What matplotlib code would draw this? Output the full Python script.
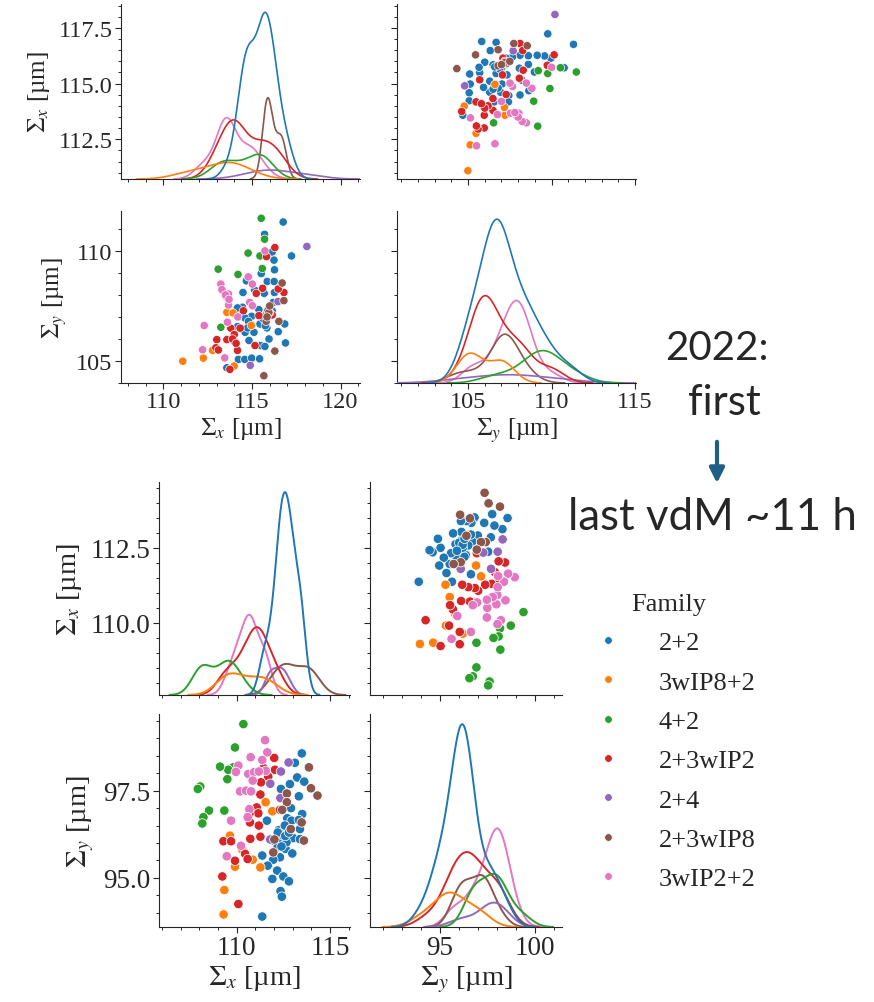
import numpy as np
import pandas as pd
import matplotlib
matplotlib.use("Agg")
import matplotlib.pyplot as plt
import seaborn as sns
from matplotlib.ticker import AutoMinorLocator, MultipleLocator
from matplotlib.lines import Line2D
from matplotlib.patches import FancyArrowPatch

FAMILIES = ["2+2", "3wIP8+2", "4+2", "2+3wIP2", "2+4", "2+3wIP8", "3wIP2+2"]
COLORS = ["#1f77b4", "#ff7f0e", "#2ca02c", "#d62728", "#9467bd", "#8c564b", "#e377c2"]

# ---------------- top pair plot (2022 first) ----------------
top_sx_22 = [116.76, 115.71, 117.23, 116.14, 116.24, 116.27, 115.52, 114.68, 115.86, 116.25,
             114.49, 115.15, 115.69, 116.27, 116.20, 116.14, 115.39, 114.98, 115.81, 114.46,
             114.18, 114.61, 115.45, 114.98, 115.84, 114.18, 114.61, 115.11, 116.85, 116.48,
             115.96, 114.83, 115.49, 116.89, 115.73, 114.23, 114.59, 114.98, 115.43, 113.58,
             114.8, 115.7, 114.75, 115.65, 115.75]
top_sy_22 = [111.31, 110.75, 109.77, 109.95, 109.58, 109.14, 108.97, 108.64, 108.61, 108.61,
             108.11, 108.22, 108.07, 108.11, 107.66, 107.28, 107.33, 107.03, 107.13, 107.44,
             107.41, 106.95, 106.68, 106.64, 106.50, 106.56, 106.30, 106.30, 106.68, 106.33,
             106.00, 105.93, 105.70, 105.82, 105.66, 105.07, 105.07, 105.13, 105.10, 104.69,
             106.8, 107.0, 106.5, 106.9, 106.6]
top_sx_3w8 = [113.58, 113.93, 114.96, 112.77, 112.25, 111.09, 113.99]
top_sy_3w8 = [107.21, 107.18, 106.61, 105.48, 105.13, 104.99, 104.77]
top_sx_42 = [115.52, 115.71, 114.78, 115.45, 113.09, 114.21, 115.58, 113.61, 113.24]
top_sy_42 = [111.48, 110.53, 109.90, 109.77, 109.17, 108.93, 109.20, 107.92, 106.53]
top_sx_2w2 = [116.29, 115.82, 116.80, 116.48, 115.24, 116.14, 115.39, 114.51, 113.80, 114.33,
              113.58, 113.01, 113.99, 115.17, 114.18, 112.96, 113.75, 114.0, 115.6, 113.1,
              113.9, 114.1]
top_sy_2w2 = [110.15, 109.74, 108.11, 108.27, 108.07, 107.09, 107.06, 107.28, 106.49, 106.49,
              105.97, 105.97, 105.90, 105.70, 105.48, 105.60, 104.62, 106.2, 108.3, 105.5,
              106.0, 105.8]
top_sx_24 = [118.1, 116.47, 114.9, 116.0]
top_sy_24 = [110.2, 107.7, 104.8, 107.2]
top_sx_2w8 = [116.70, 116.80, 116.52, 116.29, 115.67, 115.9, 115.8, 115.95, 116.0, 115.85]
top_sy_2w8 = [108.54, 107.74, 106.80, 105.45, 104.33, 107.3, 106.8, 107.2, 107.5, 107.0]
top_sx_3w2 = [115.73, 114.79, 113.24, 113.30, 113.52, 113.67, 115.02, 113.67, 114.87, 113.61,
              112.30, 112.21, 113.46, 115.02, 114.2, 113.5, 113.7]
top_sy_3w2 = [110.0, 108.82, 108.49, 108.24, 107.93, 108.04, 108.49, 107.54, 107.66, 106.76,
              106.61, 105.51, 105.14, 107.51, 107.0, 108.0, 107.8]

# ---------------- bottom pair plot (last vdM ~11 h) ----------------
bot_sx_22 = [113.49, 113.12, 113.24, 113.62, 112.85, 112.37, 113.33, 112.91, 113.51, 111.62,
             112.71, 112.94, 113.33, 112.26, 112.58, 112.89, 113.39, 111.96, 112.41, 112.76,
             113.03, 113.39, 112.19, 112.62, 112.98, 112.32, 111.37, 111.96, 111.66, 112.17,
             111.91, 112.50, 112.80, 112.35, 112.42, 111.37, 112.50, 112.67, 112.2, 112.6,
             112.4, 112.8]
bot_sy_22 = [98.57, 98.30, 97.88, 97.76, 97.69, 97.55, 97.34, 97.00, 96.83, 96.64,
             96.71, 96.64, 96.66, 96.37, 96.50, 96.40, 96.40, 96.07, 96.07, 96.16,
             96.14, 96.11, 95.88, 95.83, 95.70, 95.59, 95.64, 95.52, 95.35, 95.21,
             94.97, 95.04, 94.90, 94.62, 94.46, 93.89, 96.21, 96.02, 96.3, 96.2,
             95.9, 96.3]
bot_sx_3w8 = [111.55, 111.91, 109.64, 110.30, 109.91, 110.86, 111.27, 109.34, 109.30]
bot_sy_3w8 = [97.17, 96.91, 96.21, 95.81, 95.32, 95.52, 95.30, 94.65, 93.95]
bot_sx_42 = [110.36, 109.91, 109.82, 109.55, 109.11, 109.50, 108.52, 109.34, 108.22, 108.16,
             108.05, 107.92]
bot_sy_42 = [99.41, 98.74, 98.17, 98.10, 98.19, 97.83, 96.93, 96.93, 96.74, 96.56,
             97.62, 97.55]
bot_sx_2w2 = [112.01, 112.05, 111.69, 111.30, 111.45, 111.27, 111.07, 111.16, 110.68, 110.71,
              111.19, 112.32, 111.27, 110.73, 109.29, 109.70, 110.45, 109.91, 110.59, 109.23,
              110.09]
bot_sy_2w2 = [98.44, 98.10, 97.90, 97.74, 98.15, 97.39, 97.02, 96.85, 96.83, 96.59,
              96.50, 96.95, 96.18, 96.12, 96.05, 96.05, 95.69, 95.49, 95.54, 95.04,
              94.25]
bot_sx_24 = [112.78, 112.37, 111.80, 112.34, 111.80]
bot_sy_24 = [98.31, 98.05, 97.70, 97.29, 96.10]
bot_sx_2w8 = [113.87, 113.98, 114.33, 112.69, 112.69, 113.60, 113.48, 112.44, 112.02, 111.96,
              112.9]
bot_sy_2w8 = [98.17, 97.57, 97.36, 97.42, 97.17, 96.07, 96.59, 96.95, 96.10, 95.73,
              96.4]
bot_sx_3w2 = [111.52, 111.64, 110.75, 111.37, 110.09, 109.96, 110.62, 110.93, 110.86, 110.18,
              110.50, 110.77, 110.68, 110.59, 109.70, 110.23, 109.47, 111.56, 111.19]
bot_sy_3w2 = [98.95, 98.60, 98.46, 98.38, 98.22, 98.04, 97.98, 98.03, 97.79, 97.48,
              97.50, 97.48, 96.97, 96.74, 96.64, 95.92, 95.62, 98.07, 98.05]

TOP_SX = [top_sx_22, top_sx_3w8, top_sx_42, top_sx_2w2, top_sx_24, top_sx_2w8, top_sx_3w2]
TOP_SY = [top_sy_22, top_sy_3w8, top_sy_42, top_sy_2w2, top_sy_24, top_sy_2w8, top_sy_3w2]
BOT_SX = [bot_sx_22, bot_sx_3w8, bot_sx_42, bot_sx_2w2, bot_sx_24, bot_sx_2w8, bot_sx_3w2]
BOT_SY = [bot_sy_22, bot_sy_3w8, bot_sy_42, bot_sy_2w2, bot_sy_24, bot_sy_2w8, bot_sy_3w2]


def make_df(sxs, sys_):
    rows = []
    for fam, xs, ys in zip(FAMILIES, sxs, sys_):
        for a, b in zip(xs, ys):
            rows.append((fam, a, b))
    return pd.DataFrame(rows, columns=["family", "sx", "sy"])


sns.set_style("ticks")
plt.rcParams["font.family"] = "serif"
plt.rcParams["font.serif"] = ["Liberation Serif", "DejaVu Serif"]
plt.rcParams["mathtext.fontset"] = "stix"

W, H = 874, 1003
fig = plt.figure(figsize=(W / 100, H / 100), dpi=100)


def box(x0, x1, y0, y1):
    return [x0 / W, 1 - y1 / H, (x1 - x0) / W, (y1 - y0) / H]


LAB_X = r"$\Sigma_x$ [µm]"
LAB_Y = r"$\Sigma_y$ [µm]"


def style(ax, fs):
    for s in ["top", "right"]:
        ax.spines[s].set_visible(False)
    ax.tick_params(which="major", direction="out", length=4, width=0.8, labelsize=fs, pad=2)
    ax.tick_params(which="minor", direction="out", length=2.3, width=0.7)
    ax.xaxis.set_minor_locator(AutoMinorLocator(5))
    ax.yaxis.set_minor_locator(AutoMinorLocator(5))


def pairplot(df, cols, rows, xlim, ylim, rowx, rowy, xstep, ystep, fs_tick, fs_lab, s, lw):
    ax_d1 = fig.add_axes(box(*cols[0], *rows[0]))
    ax_s01 = fig.add_axes(box(*cols[1], *rows[0]))
    ax_s10 = fig.add_axes(box(*cols[0], *rows[1]))
    ax_d2 = fig.add_axes(box(*cols[1], *rows[1]))

    sns.scatterplot(data=df, x="sy", y="sx", hue="family", hue_order=FAMILIES,
                    palette=COLORS, ax=ax_s01, legend=False, s=s)
    sns.scatterplot(data=df, x="sx", y="sy", hue="family", hue_order=FAMILIES,
                    palette=COLORS, ax=ax_s10, legend=False, s=s)

    for ax, var in [(ax_d1, "sx"), (ax_d2, "sy")]:
        tw = ax.twinx()
        sns.kdeplot(data=df, x=var, hue="family", hue_order=FAMILIES, palette=COLORS,
                    ax=tw, legend=False, common_norm=True, linewidth=lw)
        top = max(l.get_ydata().max() for l in tw.get_lines())
        tw.set_ylim(0, top * 1.05)
        tw.set_axis_off()

    ax_d1.set_xlim(*xlim); ax_d1.set_ylim(*rowx)
    ax_s01.set_xlim(*ylim); ax_s01.set_ylim(*rowx)
    ax_s10.set_xlim(*xlim); ax_s10.set_ylim(*rowy)
    ax_d2.set_xlim(*ylim); ax_d2.set_ylim(*rowy)

    for ax in [ax_d1, ax_s10]:
        ax.xaxis.set_major_locator(MultipleLocator(xstep[0]))
    for ax in [ax_s01, ax_d2]:
        ax.xaxis.set_major_locator(MultipleLocator(ystep[0]))
    for ax in [ax_d1, ax_s01]:
        ax.yaxis.set_major_locator(MultipleLocator(xstep[1]))
    for ax in [ax_s10, ax_d2]:
        ax.yaxis.set_major_locator(MultipleLocator(ystep[1]))

    for ax in [ax_d1, ax_s01, ax_s10, ax_d2]:
        style(ax, fs_tick)
        ax.set_xlabel("")
        ax.set_ylabel("")
    ax_d1.tick_params(labelbottom=False)
    ax_s01.tick_params(labelbottom=False, labelleft=False)
    ax_d2.tick_params(labelleft=False)

    ax_d1.set_ylabel(LAB_X, fontsize=fs_lab, labelpad=5)
    ax_s10.set_ylabel(LAB_Y, fontsize=fs_lab, labelpad=5)
    ax_s10.set_xlabel(LAB_X, fontsize=fs_lab, labelpad=2)
    ax_d2.set_xlabel(LAB_Y, fontsize=fs_lab, labelpad=2)


df_top = make_df(TOP_SX, TOP_SY)
df_bot = make_df(BOT_SX, BOT_SY)

pairplot(df_top, [(121, 360), (397, 636)], [(5, 180), (212, 384)],
         xlim=(107.6, 121.1), ylim=(100.75, 115.05),
         rowx=(110.72, 118.57), rowy=(104.0, 111.81),
         xstep=(5, 2.5), ystep=(5, 5), fs_tick=17.5, fs_lab=18, s=36, lw=1.2)

pairplot(df_bot, [(159, 350), (370, 562)], [(483, 696), (715, 928)],
         xlim=(105.84, 116.07), ylim=(91.32, 101.44),
         rowx=(107.6, 114.69), rowy=(93.59, 99.70),
         xstep=(5, 2.5), ystep=(5, 2.5), fs_tick=19.5, fs_lab=20.5, s=46, lw=1.4)

# legend
handles = [Line2D([], [], marker="o", linestyle="", markersize=5.5, markerfacecolor=c,
                  markeredgecolor="w", markeredgewidth=0.5) for c in COLORS]
fig.legend(handles, FAMILIES, title="Family", loc="upper left",
           bbox_to_anchor=(582 / W, 1 - 594 / H), frameon=False, fontsize=19,
           title_fontsize=19, handletextpad=0.9, labelspacing=0.6, borderpad=0,
           borderaxespad=0)

# annotations on the right
SANS = ["Lato", "DejaVu Sans"]
fig.text(717 / W, 1 - 348 / H, "2022:", ha="center", va="center", fontsize=29, family=SANS)
fig.text(724 / W, 1 - 403 / H, "first", ha="center", va="center", fontsize=30, family=SANS)
fig.text(712 / W, 1 - 518 / H, "last vdM ~11 h", ha="center", va="center", fontsize=31.5,
         family=SANS)
arrow = FancyArrowPatch((717 / W, 1 - 440 / H), (717 / W, 1 - 487 / H),
                        transform=fig.transFigure, arrowstyle="-|>", mutation_scale=22,
                        linewidth=3, color="#1f5f86")
fig.add_artist(arrow)

fig.savefig("out.png", dpi=100)
